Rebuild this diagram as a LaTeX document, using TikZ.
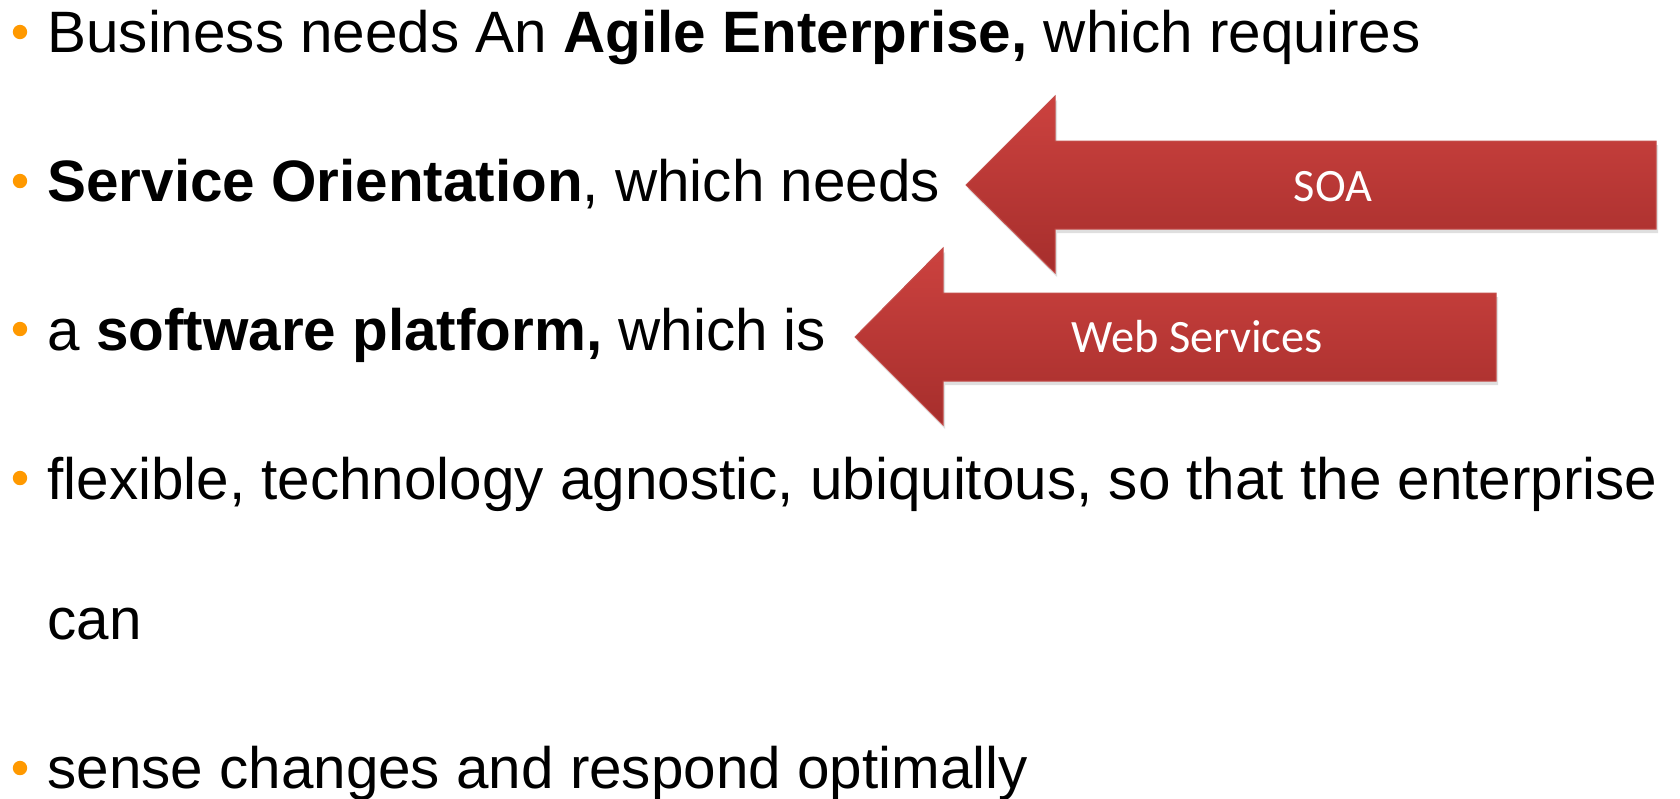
\documentclass[tikz,border=0pt]{standalone}
\usepackage{fontspec}
\setmainfont{Liberation Sans}
\newfontfamily\calibri{Carlito}
\usetikzlibrary{shadows}
\definecolor{laranja}{RGB}{255,153,0}
\definecolor{setatopo}{RGB}{204,66,63}
\definecolor{setabase}{RGB}{166,46,44}
\definecolor{setaborda}{RGB}{196,78,75}
\tikzset{linha/.style={anchor=base west,inner sep=0pt,font=\fontsize{29.2}{35}\selectfont}}
\tikzset{marca/.style={color=#1},marca/.default=laranja}
\tikzset{seta/.style={top color=setatopo,bottom color=setabase,draw=setaborda,line width=0.5pt,
	drop shadow={opacity=0.25,shadow xshift=1pt,shadow yshift=-2pt}}}
\tikzset{rotulo/.style={text=white,inner sep=0pt,anchor=base,font=\calibri\fontsize{23.2}{28}\selectfont}}

\begin{document}
\begin{tikzpicture}[x=0.5pt,y=-0.5pt]
	\useasboundingbox (0,0) rectangle (1680,798);

	% As linhas de texto
	\node[linha] (L1) at (47,52) {Business needs An \textbf{Agile Enterprise,} which requires};
	\node[linha] (L2) at (47,201) {\textbf{Service Orientation}, which needs};
	\node[linha] (L3) at (47,350) {a \textbf{software platform,} which is};
	\node[linha] (L4) at (47,499) {flexible, technology agnostic, ubiquitous, so that the enterprise};
	\node[linha] (L5) at (47,639) {can};
	\node[linha] (L6) at (47,788) {sense changes and respond optimally};

	% Os marcadores
	\foreach \y in {32,181,329,478,768}
		\fill[marca] (20,\y) circle (3.6pt);

	% A seta SOA
	\path[seta] (966,185) -- (1055,96) -- (1055,141) -- (1656,141) --
				(1656,229) -- (1055,229) -- (1055,273) -- cycle;
	\node[rotulo] (soa) at (1333,201) {SOA};

	% A seta Web Services
	\path[seta] (855,337) -- (943,248) -- (943,293) -- (1496,293) --
				(1496,381) -- (943,381) -- (943,425) -- cycle;
	\node[rotulo] (ws) at (1197,352) {Web Services};

\end{tikzpicture}
\end{document}
